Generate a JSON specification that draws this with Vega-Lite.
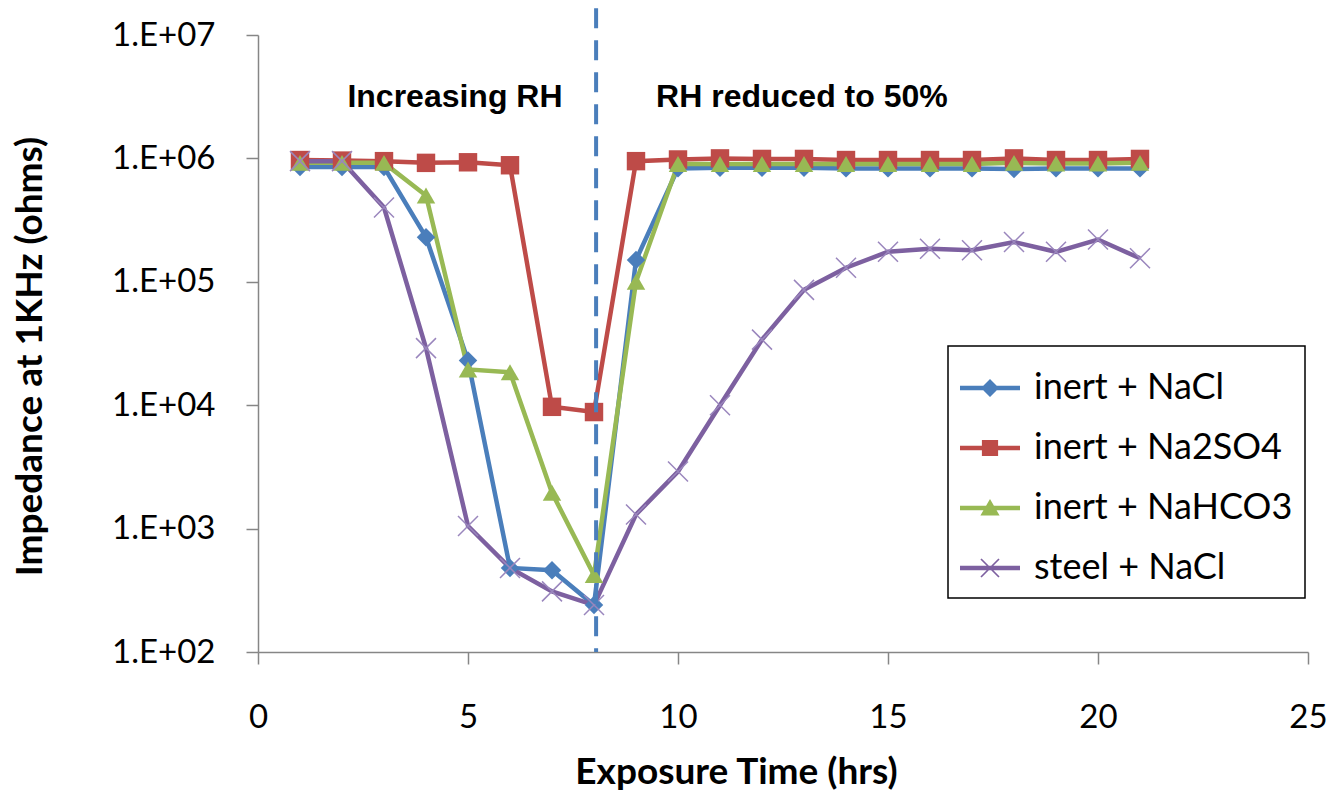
{
  "$schema": "https://vega.github.io/schema/vega-lite/v6.json",
  "width": 1050,
  "height": 617,
  "autosize": {"type": "none"},
  "padding": {"left": 258, "top": 35, "right": 21, "bottom": 141},
  "background": "white",
  "config": {"view": {"stroke": null}, "font": "Lato"},
  "datasets": {
    "series": [
      {"series": "inert + NaCl", "time": 1, "impedance": 850000},
      {"series": "inert + NaCl", "time": 2, "impedance": 850000},
      {"series": "inert + NaCl", "time": 3, "impedance": 850000},
      {"series": "inert + NaCl", "time": 4, "impedance": 230000},
      {"series": "inert + NaCl", "time": 5, "impedance": 23000},
      {"series": "inert + NaCl", "time": 6, "impedance": 480},
      {"series": "inert + NaCl", "time": 7, "impedance": 460},
      {"series": "inert + NaCl", "time": 8, "impedance": 240},
      {"series": "inert + NaCl", "time": 9, "impedance": 150000},
      {"series": "inert + NaCl", "time": 10, "impedance": 830000},
      {"series": "inert + NaCl", "time": 11, "impedance": 840000},
      {"series": "inert + NaCl", "time": 12, "impedance": 840000},
      {"series": "inert + NaCl", "time": 13, "impedance": 840000},
      {"series": "inert + NaCl", "time": 14, "impedance": 830000},
      {"series": "inert + NaCl", "time": 15, "impedance": 830000},
      {"series": "inert + NaCl", "time": 16, "impedance": 830000},
      {"series": "inert + NaCl", "time": 17, "impedance": 830000},
      {"series": "inert + NaCl", "time": 18, "impedance": 820000},
      {"series": "inert + NaCl", "time": 19, "impedance": 830000},
      {"series": "inert + NaCl", "time": 20, "impedance": 830000},
      {"series": "inert + NaCl", "time": 21, "impedance": 830000},
      {"series": "inert + Na2SO4", "time": 1, "impedance": 970000},
      {"series": "inert + Na2SO4", "time": 2, "impedance": 960000},
      {"series": "inert + Na2SO4", "time": 3, "impedance": 950000},
      {"series": "inert + Na2SO4", "time": 4, "impedance": 920000},
      {"series": "inert + Na2SO4", "time": 5, "impedance": 930000},
      {"series": "inert + Na2SO4", "time": 6, "impedance": 880000},
      {"series": "inert + Na2SO4", "time": 7, "impedance": 9700},
      {"series": "inert + Na2SO4", "time": 8, "impedance": 8800},
      {"series": "inert + Na2SO4", "time": 9, "impedance": 950000},
      {"series": "inert + Na2SO4", "time": 10, "impedance": 980000},
      {"series": "inert + Na2SO4", "time": 11, "impedance": 1000000},
      {"series": "inert + Na2SO4", "time": 12, "impedance": 990000},
      {"series": "inert + Na2SO4", "time": 13, "impedance": 990000},
      {"series": "inert + Na2SO4", "time": 14, "impedance": 970000},
      {"series": "inert + Na2SO4", "time": 15, "impedance": 970000},
      {"series": "inert + Na2SO4", "time": 16, "impedance": 970000},
      {"series": "inert + Na2SO4", "time": 17, "impedance": 970000},
      {"series": "inert + Na2SO4", "time": 18, "impedance": 1000000},
      {"series": "inert + Na2SO4", "time": 19, "impedance": 970000},
      {"series": "inert + Na2SO4", "time": 20, "impedance": 970000},
      {"series": "inert + Na2SO4", "time": 21, "impedance": 990000},
      {"series": "inert + NaHCO3", "time": 1, "impedance": 920000},
      {"series": "inert + NaHCO3", "time": 2, "impedance": 920000},
      {"series": "inert + NaHCO3", "time": 3, "impedance": 920000},
      {"series": "inert + NaHCO3", "time": 4, "impedance": 500000},
      {"series": "inert + NaHCO3", "time": 5, "impedance": 19500},
      {"series": "inert + NaHCO3", "time": 6, "impedance": 18500},
      {"series": "inert + NaHCO3", "time": 7, "impedance": 1950},
      {"series": "inert + NaHCO3", "time": 8, "impedance": 420},
      {"series": "inert + NaHCO3", "time": 9, "impedance": 100000},
      {"series": "inert + NaHCO3", "time": 10, "impedance": 900000},
      {"series": "inert + NaHCO3", "time": 11, "impedance": 900000},
      {"series": "inert + NaHCO3", "time": 12, "impedance": 900000},
      {"series": "inert + NaHCO3", "time": 13, "impedance": 900000},
      {"series": "inert + NaHCO3", "time": 14, "impedance": 900000},
      {"series": "inert + NaHCO3", "time": 15, "impedance": 900000},
      {"series": "inert + NaHCO3", "time": 16, "impedance": 900000},
      {"series": "inert + NaHCO3", "time": 17, "impedance": 900000},
      {"series": "inert + NaHCO3", "time": 18, "impedance": 920000},
      {"series": "inert + NaHCO3", "time": 19, "impedance": 910000},
      {"series": "inert + NaHCO3", "time": 20, "impedance": 910000},
      {"series": "inert + NaHCO3", "time": 21, "impedance": 920000},
      {"series": "steel + NaCl", "time": 1, "impedance": 950000},
      {"series": "steel + NaCl", "time": 2, "impedance": 950000},
      {"series": "steel + NaCl", "time": 3, "impedance": 400000},
      {"series": "steel + NaCl", "time": 4, "impedance": 29000},
      {"series": "steel + NaCl", "time": 5, "impedance": 1050},
      {"series": "steel + NaCl", "time": 6, "impedance": 480},
      {"series": "steel + NaCl", "time": 7, "impedance": 310},
      {"series": "steel + NaCl", "time": 8, "impedance": 240},
      {"series": "steel + NaCl", "time": 9, "impedance": 1300},
      {"series": "steel + NaCl", "time": 10, "impedance": 2900},
      {"series": "steel + NaCl", "time": 11, "impedance": 10000},
      {"series": "steel + NaCl", "time": 12, "impedance": 34000},
      {"series": "steel + NaCl", "time": 13, "impedance": 86000},
      {"series": "steel + NaCl", "time": 14, "impedance": 130000},
      {"series": "steel + NaCl", "time": 15, "impedance": 175000},
      {"series": "steel + NaCl", "time": 16, "impedance": 185000},
      {"series": "steel + NaCl", "time": 17, "impedance": 180000},
      {"series": "steel + NaCl", "time": 18, "impedance": 210000},
      {"series": "steel + NaCl", "time": 19, "impedance": 175000},
      {"series": "steel + NaCl", "time": 20, "impedance": 220000},
      {"series": "steel + NaCl", "time": 21, "impedance": 155000}
    ],
    "annot": [
      {"label": "Increasing RH", "time": 4.69, "impedance": 3150000},
      {"label": "RH reduced to 50%", "time": 12.95, "impedance": 3150000}
    ],
    "divider": [
      {"time": 8.05, "top": 16500000, "bottom": 100}
    ]
  },
  "layer": [
    {
      "data": {"name": "series"},
      "mark": {"type": "line", "strokeWidth": 4.5},
      "encoding": {
        "x": {
          "field": "time", "type": "quantitative",
          "scale": {"domain": [0, 25], "nice": false},
          "axis": {
            "values": [0, 5, 10, 15, 20, 25],
            "grid": false,
            "title": "Exposure Time (hrs)",
            "titleFont": "Lato", "titleFontSize": 37, "titleFontWeight": "bold", "titleColor": "#000",
            "titleX": 478, "titleY": 120, "titleBaseline": "middle", "titleAlign": "center",
            "labelFont": "Lato", "labelFontSize": 33, "labelColor": "#000",
            "labelPadding": 37, "labelFlush": false, "labelOverlap": false,
            "tickSize": 12, "tickColor": "#868686", "tickWidth": 1.5,
            "domainColor": "#868686", "domainWidth": 1.5
          }
        },
        "y": {
          "field": "impedance", "type": "quantitative",
          "scale": {"type": "log", "domain": [100, 10000000], "nice": false},
          "axis": {
            "values": [100, 1000, 10000, 100000, 1000000, 10000000],
            "labelExpr": "'1.E+0' + round(log(datum.value) / LN10)",
            "grid": false,
            "title": "Impedance at 1KHz (ohms)",
            "titleFont": "Lato", "titleFontSize": 37, "titleFontWeight": "bold", "titleColor": "#000",
            "titleX": -228, "titleY": 321, "titleBaseline": "middle", "titleAlign": "center", "titleAngle": -90,
            "labelFont": "Lato", "labelFontSize": 33, "labelColor": "#000",
            "labelPadding": 31, "labelFlush": false, "labelOverlap": false,
            "tickSize": 12, "tickColor": "#868686", "tickWidth": 1.5,
            "domainColor": "#868686", "domainWidth": 1.5
          }
        },
        "color": {
          "field": "series", "type": "nominal",
          "scale": {
            "domain": ["inert + NaCl", "inert + Na2SO4", "inert + NaHCO3", "steel + NaCl"],
            "range": ["#4A7EBB", "#BE4B48", "#98B954", "#7D60A0"]
          },
          "legend": {
            "orient": "none", "legendX": 690, "legendY": 311,
            "title": null,
            "strokeColor": "#000", "fillColor": "white",
            "padding": 12,
            "symbolSize": 3600, "symbolStrokeWidth": 0, "symbolType": "square",
            "labelFont": "Lato", "labelFontSize": 36, "labelColor": "#000",
            "labelOffset": 14, "rowPadding": 12, "labelLimit": 400,
            "encode": {
              "legend": {"update": {"strokeWidth": {"value": 1.5}}},
              "symbols": {
                "update": {
                  "shape": {"signal": "datum.value === 'inert + NaCl' ? 'M-1,-0.075H1V0.075H-1Z M0,-0.3L0.3,0L0,0.3L-0.3,0Z' : datum.value === 'inert + Na2SO4' ? 'M-1,-0.075H1V0.075H-1Z M-0.27,-0.27H0.27V0.27H-0.27Z' : datum.value === 'inert + NaHCO3' ? 'M-1,-0.075H1V0.075H-1Z M0,-0.3L0.32,0.25H-0.32Z' : 'M-1,-0.075H1V0.075H-1Z M-0.32,-0.28L-0.28,-0.32L0.32,0.28L0.28,0.32Z M0.28,-0.32L0.32,-0.28L-0.28,0.32L-0.32,0.28Z'"},
                  "fill": {"signal": "datum.value === 'inert + NaCl' ? '#4A7EBB' : datum.value === 'inert + Na2SO4' ? '#BE4B48' : datum.value === 'inert + NaHCO3' ? '#98B954' : '#7D60A0'"},
                  "fillOpacity": {"value": 1},
                  "stroke": {"value": "transparent"},
                  "strokeWidth": {"value": 0},
                  "opacity": {"value": 1}
                }
              }
            }
          }
        }
      }
    },
    {
      "data": {"name": "series"},
      "transform": [{"filter": "datum.series === 'inert + NaCl'"}],
      "mark": {"type": "point", "filled": true, "size": 340, "opacity": 1, "shape": "diamond", "color": "#4A7EBB"},
      "encoding": {
        "x": {"field": "time", "type": "quantitative"},
        "y": {"field": "impedance", "type": "quantitative"}
      }
    },
    {
      "data": {"name": "series"},
      "transform": [{"filter": "datum.series === 'inert + Na2SO4'"}],
      "mark": {"type": "point", "filled": true, "size": 340, "opacity": 1, "shape": "square", "color": "#BE4B48"},
      "encoding": {
        "x": {"field": "time", "type": "quantitative"},
        "y": {"field": "impedance", "type": "quantitative"}
      }
    },
    {
      "data": {"name": "series"},
      "transform": [{"filter": "datum.series === 'inert + NaHCO3'"}],
      "mark": {"type": "point", "filled": true, "size": 340, "opacity": 1, "shape": "triangle-up", "color": "#98B954"},
      "encoding": {
        "x": {"field": "time", "type": "quantitative"},
        "y": {"field": "impedance", "type": "quantitative"}
      }
    },
    {
      "data": {"name": "series"},
      "transform": [{"filter": "datum.series === 'steel + NaCl'"}],
      "mark": {"type": "point", "filled": false, "size": 400, "shape": "M-1,-1L1,1M-1,1L1,-1", "strokeWidth": 1.5, "color": "#9A86BD", "opacity": 1},
      "encoding": {
        "x": {"field": "time", "type": "quantitative"},
        "y": {"field": "impedance", "type": "quantitative"}
      }
    },
    {
      "data": {"name": "divider"},
      "mark": {"type": "rule", "color": "#4A7EBB", "strokeWidth": 4, "strokeDash": [20, 12], "clip": false},
      "encoding": {
        "x": {"field": "time", "type": "quantitative"},
        "y": {"field": "top", "type": "quantitative"},
        "y2": {"field": "bottom"}
      }
    },
    {
      "data": {"name": "annot"},
      "mark": {"type": "text", "font": "Liberation Sans", "fontWeight": "bold", "fontSize": 32, "align": "center", "baseline": "middle", "color": "#000"},
      "encoding": {
        "x": {"field": "time", "type": "quantitative"},
        "y": {"field": "impedance", "type": "quantitative"},
        "text": {"field": "label"}
      }
    }
  ]
}
